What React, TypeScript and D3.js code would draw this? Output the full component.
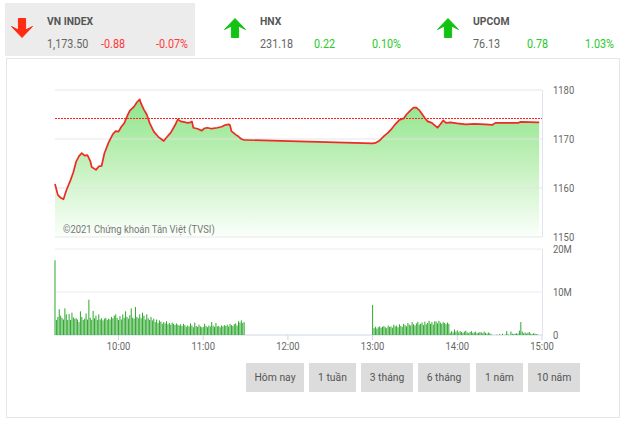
import React from "react";
import * as d3 from "d3";

const priceTimes = ["09:15","09:17","09:19","09:21","09:23","09:26","09:28","09:30","09:32","09:34","09:36","09:38","09:40","09:41","09:43","09:44","09:46","09:48","09:50","09:53","09:56","09:58","10:00","10:02","10:04","10:06","10:08","10:11","10:13","10:15","10:16","10:18","10:20","10:22","10:25","10:28","10:32","10:34","10:37","10:40","10:42","10:44","10:46","10:49","10:51","10:52","10:53","10:56","10:59","11:01","11:03","11:06","11:10","11:13","11:16","11:18","11:19","11:20","11:23","11:25","11:27","11:29","11:30","13:00","13:02","13:05","13:08","13:11","13:13","13:16","13:19","13:22","13:24","13:27","13:29","13:31","13:33","13:35","13:37","13:39","13:42","13:44","13:46","13:48","13:50","13:52","13:55","14:00","14:06","14:12","14:20","14:25","14:27","14:35","14:43","14:45","14:58"];
const priceValues = [1160.8,1158.6,1158.0,1157.7,1159.5,1161.6,1163.2,1165.4,1166.5,1167.1,1166.6,1166.7,1165.5,1164.3,1163.9,1163.7,1164.4,1164.5,1167.1,1169.3,1171.0,1171.6,1171.5,1172.5,1173.2,1174.6,1175.8,1176.6,1177.5,1178.1,1177.2,1176.0,1175.0,1173.3,1171.5,1170.5,1169.6,1170.3,1171.3,1172.8,1174.0,1173.6,1173.5,1173.3,1173.4,1173.6,1172.3,1172.1,1171.7,1172.2,1172.3,1172.1,1172.3,1172.5,1172.9,1173.0,1172.8,1171.6,1170.9,1170.5,1170.0,1169.8,1169.8,1169.1,1169.2,1169.7,1170.6,1171.3,1171.9,1173.0,1173.9,1174.2,1175.0,1175.9,1176.4,1176.4,1175.9,1175.1,1174.3,1173.6,1173.3,1172.8,1172.3,1173.0,1173.8,1173.3,1173.4,1173.2,1173.0,1173.1,1173.0,1172.9,1173.3,1173.3,1173.3,1173.5,1173.4];
const refPrice = 1174.38;

// volume in millions, one bar per minute
const volMorningStart = "09:15";
const volMorning = [
  17.4,3.5,4.2,6.0,4.5,4.0,3.6,6.2,4.8,3.5,4.9,3.5,5.2,4.1,3.8,
  3.9,3.6,3.0,5.5,4.2,3.5,3.8,5.0,3.6,8.2,4.0,3.5,5.6,3.9,4.5,
  3.5,4.8,3.6,3.9,3.4,3.8,4.0,3.5,3.8,3.6,4.2,3.9,4.5,4.8,4.0,
  3.5,4.4,3.6,4.8,4.0,5.5,4.2,3.8,4.6,6.2,4.0,3.8,6.5,4.2,3.9,
  4.8,3.9,5.2,4.5,3.6,4.8,3.9,3.5,4.2,3.4,3.8,3.0,3.6,2.8,3.4,
  3.1,2.6,3.0,2.7,3.2,2.5,2.8,2.4,2.9,2.6,2.3,2.7,2.4,2.2,2.5,
  2.1,2.6,2.3,1.9,2.2,2.0,2.7,2.2,1.8,2.9,2.1,1.9,2.4,2.0,1.8,
  1.9,2.6,2.1,1.8,2.2,2.0,3.0,2.2,1.9,2.8,2.0,2.1,1.8,2.2,2.0,
  2.3,2.1,2.4,2.0,2.6,2.3,2.1,2.5,2.7,2.2,3.2,2.9,3.4,2.8,3.0
];
const volAfternoonStart = "13:00";
const volAfternoon = [
  7.0,1.6,1.9,1.5,1.8,2.0,1.7,1.9,2.1,1.8,1.6,2.2,1.9,2.0,1.7,
  2.4,2.0,2.2,1.8,2.5,2.1,1.9,2.6,2.3,2.0,2.8,2.4,2.2,3.0,2.5,
  2.2,2.7,3.1,2.4,2.6,2.9,2.3,3.1,2.5,2.8,3.3,2.6,3.0,2.4,3.2,
  3.1,2.7,3.3,2.9,2.6,3.0,2.8,2.5,2.9,2.6,0.5,0.9,0.6,1.3,0.8,
  1.1,0.6,0.9,0.7,0.5,0.8,1.0,0.6,0.4,0.7,0.9,0.5,0.6,0.8,0.4,
  0.5,0.7,0.6,0.4,0.8,0.5,0.3,0.6,0.4,0.2,0,0,0,0.1,0,
  0.2,0,0.3,0,0.1,0.9,0.2,0,0.8,0.3,0.2,0.3,0.4,0.3,1.0,
  3.0,0.8,0.4,0.6,0.3,0.5,0.7,0.3,0.2,0.4,0.3,0.2,0.1
];

const priceTicks = [1180, 1170, 1160, 1150];
const volTicks = [20, 10, 0];
const volTickLabels = ["20M", "10M", "0"];
const timeTicks = ["10:00", "11:00", "12:00", "13:00", "14:00", "15:00"];
const timeDomain = ["09:15", "15:00"];

const indexNames = ["VN INDEX", "HNX", "UPCOM"];
const indexValues = ["1,173.50", "231.18", "76.13"];
const indexChanges = ["-0.88", "0.22", "0.78"];
const indexPercents = ["-0.07%", "0.10%", "1.03%"];
const indexUp = [false, true, true];

const buttonLabels = ["Hôm nay", "1 tuần", "3 tháng", "6 tháng", "1 năm", "10 năm"];

const parse = d3.timeParse("%H:%M");
const FONT = "Roboto, 'Liberation Sans', sans-serif";

function CText(props: any) {
  const { x, y, anchor, children, ...rest } = props;
  return (
    <text transform={`translate(${x},${y}) scale(0.9,1)`} textAnchor={anchor || "start"} {...rest}>
      {children}
    </text>
  );
}

export default function App() {
  const x = d3.scaleTime().domain(timeDomain.map((t) => parse(t) as Date)).range([55, 542]);
  const yP = d3.scaleLinear().domain([1150, 1180]).range([237, 90]);
  const yV = d3.scaleLinear().domain([0, 20]).range([335, 249]);

  const pts = priceTimes.map((t, i) => ({ t: parse(t) as Date, v: priceValues[i] }));
  const line = d3.line<any>().x((d) => x(d.t)).y((d) => yP(d.v));
  const area = d3.area<any>().x((d) => x(d.t)).y0(yP(1150)).y1((d) => yP(d.v));

  const bars: { t: Date; v: number }[] = [];
  const addBars = (start: string, arr: number[]) => {
    const s = parse(start) as Date;
    arr.forEach((v, i) => bars.push({ t: d3.timeMinute.offset(s, i), v }));
  };
  addBars(volMorningStart, volMorning);
  addBars(volAfternoonStart, volAfternoon);

  const headerX = [0, 213, 426];

  const arrow = (cx: number, top: number, up: boolean, color: string) => {
    const w = 10.5, h = 19, sw = 3.6, headH = 11;
    let d;
    if (up) {
      d = `M${cx},${top} L${cx + w},${top + headH} L${cx + sw},${top + headH - 3.5} L${cx + sw},${top + h} L${cx - sw},${top + h} L${cx - sw},${top + headH - 3.5} L${cx - w},${top + headH} Z`;
    } else {
      const b = top + h;
      d = `M${cx},${b} L${cx + w},${b - headH} L${cx + sw},${b - headH + 3.5} L${cx + sw},${top} L${cx - sw},${top} L${cx - sw},${b - headH + 3.5} L${cx - w},${b - headH} Z`;
    }
    return <path d={d} fill={color} stroke={color} strokeWidth={1} strokeLinejoin="round" />;
  };

  const btnX = [246, 309, 361, 418, 476, 528];
  const btnW = [58, 47, 52, 52, 47, 52];
  const refY = Math.round(yP(refPrice)) + 0.5;

  return (
    <svg width={627} height={425} style={{ position: "absolute", left: 0, top: 0, background: "#fff" }} fontFamily={FONT}>
      <defs>
        <linearGradient id="gfill" gradientUnits="userSpaceOnUse" x1="0" y1={yP(1178)} x2="0" y2={yP(1150)}>
          <stop offset="0" stopColor="#8ee58a" />
          <stop offset="0.45" stopColor="#c2f0bb" />
          <stop offset="1" stopColor="#fbfffb" />
        </linearGradient>
      </defs>
      {/* header */}
      <rect x={5} y={3} width={190} height={53} fill="#ececec" />
      {indexNames.map((n, i) => {
        const ox = headerX[i];
        const col = indexUp[i] ? "#2bc92b" : "#ff3b3b";
        const arrowCol = indexUp[i] ? "#13c313" : "#ff2a12";
        return (
          <g key={n}>
            {arrow(ox + 22, 18.5, indexUp[i], arrowCol)}
            <CText x={ox + 47} y={25} fontSize={11.5} fontWeight="bold" fill="#555">{n}</CText>
            <CText x={ox + 47} y={48} fontSize={12} fill="#666">{indexValues[i]}</CText>
            <CText x={ox + 101} y={48} fontSize={12} fill={col}>{indexChanges[i]}</CText>
            <CText x={ox + 188} y={48} fontSize={12} fill={col} anchor="end">{indexPercents[i]}</CText>
          </g>
        );
      })}

      {/* outer panel */}
      <rect x={6.5} y={58.5} width={613} height={359} fill="none" stroke="#e6e6e6" />

      {/* price panel */}
      <path d={area(pts) as string} fill="url(#gfill)" />
      {priceTicks.map((t) => (
        <line key={t} x1={55} x2={542} y1={yP(t)} y2={yP(t)} stroke="#e3e3e3" strokeOpacity={0.85} strokeWidth={1} />
      ))}
      <line x1={55} x2={542} y1={refY} y2={refY} stroke="#ff2020" strokeWidth={1} strokeDasharray="2,1" />
      <path d={line(pts) as string} fill="none" stroke="#ee2a24" strokeWidth={1.7} strokeLinejoin="round" />
      <line x1={542.5} x2={542.5} y1={90} y2={237} stroke="#dfe5ee" />
      {priceTicks.map((t) => (
        <CText key={t} x={553} y={yP(t) + 3.5} fontSize={10.5} fill="#666">{t}</CText>
      ))}
      <CText x={63} y={233} fontSize={10.5} fill="#777">©2021 Chứng khoán Tân Việt (TVSI)</CText>

      {/* volume */}
      {volTicks.map((t) => (
        <line key={t} x1={55} x2={542} y1={yV(t)} y2={yV(t)} stroke={t === 0 ? "#ccd6eb" : "#ececec"} />
      ))}
      {bars.map((b, i) => (
        <rect key={i} x={x(b.t) - 0.5} y={yV(b.v)} width={1} height={yV(0) - yV(b.v)} fill="#2ea82e" />
      ))}
      <line x1={542.5} x2={542.5} y1={249} y2={335} stroke="#dfe5ee" />
      {volTicks.map((t, i) => (
        <CText key={t} x={553} y={yV(t) + 3.5} fontSize={10.5} fill="#666">{volTickLabels[i]}</CText>
      ))}
      {timeTicks.map((t) => {
        const tx = x(parse(t) as Date);
        return (
          <g key={t}>
            <line x1={tx} x2={tx} y1={335} y2={340} stroke="#ccd6eb" />
            <CText x={tx} y={350} fontSize={10.5} fill="#666" anchor="middle">{t}</CText>
          </g>
        );
      })}

      {/* buttons */}
      {buttonLabels.map((b, i) => (
        <g key={b}>
          <rect x={btnX[i]} y={363} width={btnW[i]} height={29} fill="#dcdcdc" />
          <CText x={btnX[i] + btnW[i] / 2} y={381} fontSize={11.5} fill="#555" anchor="middle">{b}</CText>
        </g>
      ))}
    </svg>
  );
}
